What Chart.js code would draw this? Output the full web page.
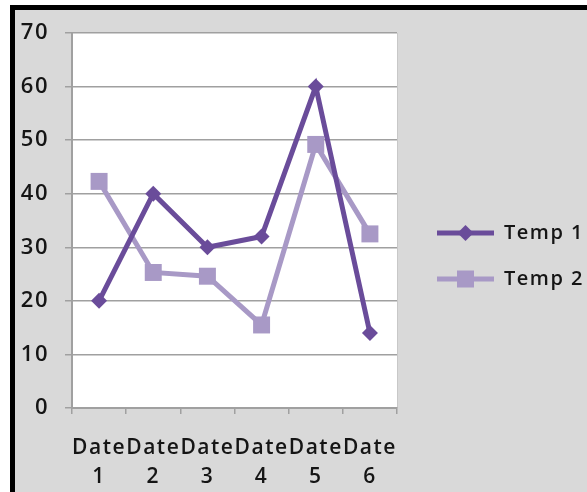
<!DOCTYPE html>
<html>
<script src="https://cdn.jsdelivr.net/npm/chart.js@4.4.0/dist/chart.umd.min.js"></script>
<style>
  body { margin: 0; background: #fff; }
  #frame {
    position: absolute; left: 10px; top: 5px;
    width: 600px; height: 520px;
    border-left: 5px solid #000; border-top: 5px solid #000;
    background: #d9d9d9;
  }
  #box { position: absolute; left: 0; top: 0; width: 572px; height: 482px; }
</style>
<body>
<div id="frame"><div id="box"><canvas id="myChart"></canvas></div></div>
</body>

<script>
// values
var dates = [["Date", "1"], ["Date", "2"], ["Date", "3"], ["Date", "4"], ["Date", "5"], ["Date", "6"]];
var temp1 = [20, 40, 30, 32, 60, 14];
var temp2 = [42.3, 25.3, 24.6, 15.5, 49.2, 32.5];

var col1 = "#6a4c9a";
var col2 = "#a899c6";

// legend swatch: a line with the marker on it (left 14px kept empty)
function swatch(color, diamond) {
  var c = document.createElement("canvas");
  c.width = 71; c.height = 20;
  var g = c.getContext("2d");
  g.strokeStyle = color; g.lineWidth = 5;
  g.beginPath(); g.moveTo(14, 10); g.lineTo(71, 10); g.stroke();
  g.fillStyle = color;
  if (diamond) {
    g.beginPath(); g.moveTo(42.5, 2); g.lineTo(50.5, 10); g.lineTo(42.5, 18); g.lineTo(34.5, 10); g.closePath(); g.fill();
  } else {
    g.fillRect(34, 1.5, 17, 17);
  }
  return c;
}
var sw = [swatch(col1, true), swatch(col2, false)];

// white plot area with a thin right edge
var plotBg = {
  id: "plotBg",
  beforeDraw: function (chart) {
    var a = chart.chartArea, ctx = chart.ctx;
    ctx.save();
    ctx.fillStyle = "#fff";
    ctx.fillRect(a.left, a.top, a.right - a.left, a.bottom - a.top);
    ctx.strokeStyle = "#c8c8c8"; ctx.lineWidth = 1;
    ctx.beginPath(); ctx.moveTo(a.right + 0.5, a.top); ctx.lineTo(a.right + 0.5, a.bottom); ctx.stroke();
    ctx.restore();
  }
};

// widen the legend so the chart area ends where the reference's does
var legendWidth = {
  id: "legendWidth",
  beforeInit: function (chart) {
    var fit = chart.legend.fit;
    chart.legend.fit = function () {
      fit.call(this);
      this.width = 190;
    };
  }
};

// the reference text is loosely spaced
var spacing = {
  id: "spacing",
  beforeUpdate: function (chart) { chart.ctx.letterSpacing = "1.5px"; },
  beforeDraw: function (chart) { chart.ctx.letterSpacing = "1.5px"; }
};

var font = "'Open Sans', Lato, sans-serif";

new Chart("myChart", {
  type: "line",
  data: {
    labels: dates,
    datasets: [{
      label: "Temp 1",
      data: temp1,
      borderColor: col1,
      backgroundColor: col1,
      borderWidth: 5,
      pointStyle: "rectRot",
      pointRadius: 8,
      pointBorderWidth: 0,
      fill: false
    }, {
      label: "Temp 2",
      data: temp2,
      borderColor: col2,
      backgroundColor: col2,
      borderWidth: 5,
      pointStyle: "rect",
      pointRadius: 12,
      pointBorderWidth: 0,
      fill: false
    }]
  },
  options: {
    responsive: true,
    maintainAspectRatio: false,
    animation: false,
    layout: { padding: { top: 23, bottom: 0, left: 0, right: 0 } },
    plugins: {
      tooltip: { enabled: false },
      legend: {
        position: "right",
        align: "start",
        title: { display: true, text: "", font: { size: 1, lineHeight: 1 }, padding: { top: 163, bottom: 0 } },
        labels: {
          usePointStyle: true,
          pointStyleWidth: 71,
          padding: 26,
          color: "#151515",
          font: { family: font, size: 20, weight: 600 },
          generateLabels: function (chart) {
            var items = Chart.defaults.plugins.legend.labels.generateLabels(chart);
            items.forEach(function (it, i) { it.pointStyle = sw[i]; });
            return items;
          }
        }
      }
    },
    scales: {
      x: {
        offset: true,
        afterFit: function (s) { s.height = 84; },
        grid: { offset: true, drawOnChartArea: false, tickLength: 6, color: "#a0a0a0", lineWidth: 1.5 },
        border: { color: "#a0a0a0", width: 2 },
        ticks: {
          autoSkip: false, maxRotation: 0, padding: 19,
          color: "#151515",
          font: { family: font, size: 21, weight: 600, lineHeight: 1.4 }
        }
      },
      y: {
        min: 0, max: 70,
        afterFit: function (s) { s.width = 57; s.paddingTop = 12; s.paddingBottom = 12; },
        grid: { tickLength: 7, color: "#a0a0a0", lineWidth: 1.5 },
        border: { color: "#a0a0a0", width: 2 },
        ticks: {
          stepSize: 10, padding: 16,
          color: "#151515",
          font: { family: font, size: 22, weight: 600 }
        }
      }
    }
  },
  plugins: [plotBg, legendWidth, spacing]
});
</script>
</html>
